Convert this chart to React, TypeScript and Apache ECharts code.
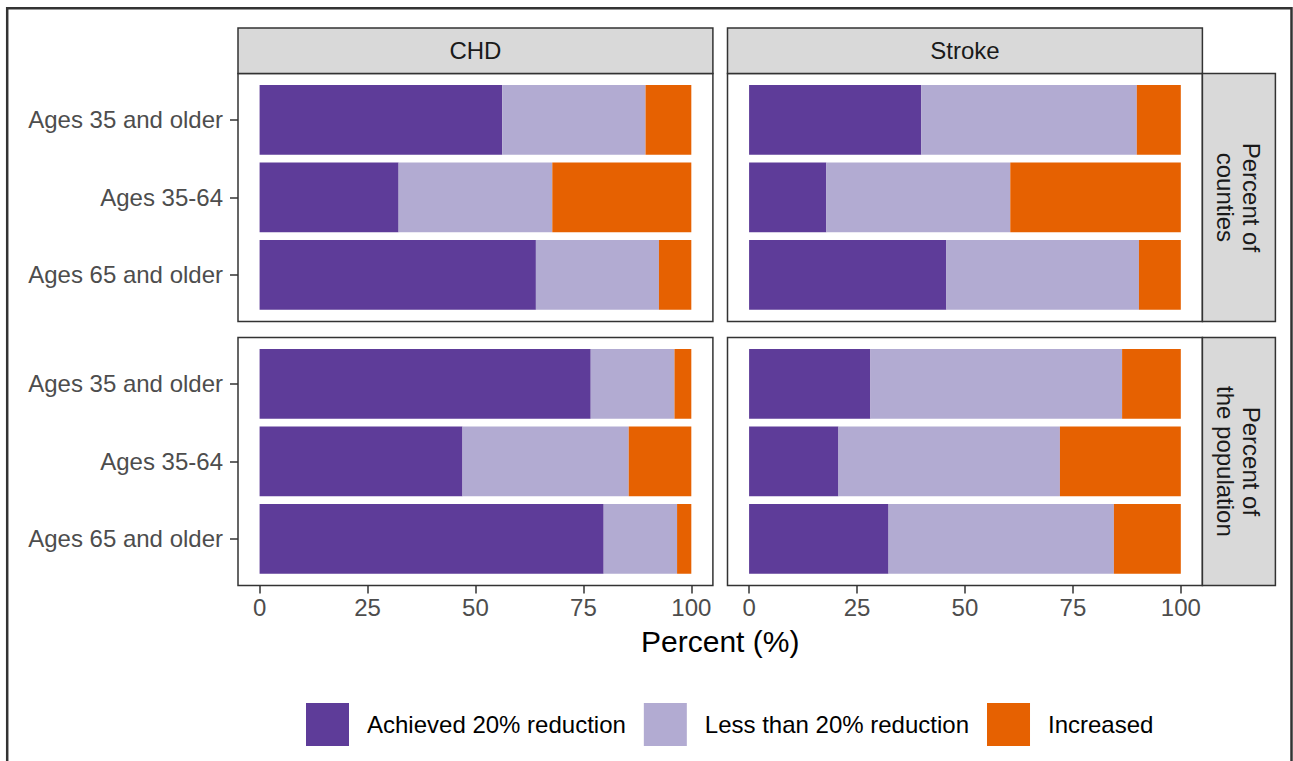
import React, { useEffect, useRef } from "react";
import * as echarts from "echarts";

const categories = ["Ages 35 and older", "Ages 35-64", "Ages 65 and older"];
const facetCols = ["CHD", "Stroke"];
const facetRows = ["Percent of\ncounties", "Percent of\nthe population"];
const seriesNames = ["Achieved 20% reduction", "Less than 20% reduction", "Increased"];
const seriesColors = ["#5E3C99", "#B2ABD2", "#E66101"];
const xTicks = [0, 25, 50, 75, 100];

// Percent of counties
const chdCountiesAchieved = [56.2, 32.2, 64.0];
const chdCountiesLess = [33.2, 35.6, 28.5];
const chdCountiesIncreased = [10.6, 32.2, 7.5];
const strokeCountiesAchieved = [39.9, 17.9, 45.7];
const strokeCountiesLess = [49.9, 42.6, 44.6];
const strokeCountiesIncreased = [10.2, 39.5, 9.7];
// Percent of the population
const chdPopAchieved = [76.7, 47.0, 79.7];
const chdPopLess = [19.4, 38.5, 17.0];
const chdPopIncreased = [3.9, 14.5, 3.3];
const strokePopAchieved = [28.1, 20.7, 32.3];
const strokePopLess = [58.3, 51.3, 52.2];
const strokePopIncreased = [13.6, 28.0, 15.5];

const panelData = [
  [
    [chdCountiesAchieved, chdCountiesLess, chdCountiesIncreased],
    [strokeCountiesAchieved, strokeCountiesLess, strokeCountiesIncreased],
  ],
  [
    [chdPopAchieved, chdPopLess, chdPopIncreased],
    [strokePopAchieved, strokePopLess, strokePopIncreased],
  ],
];

const FONT = "'Liberation Sans', Arial, Helvetica, sans-serif";

export default function App() {
  const ref = useRef<HTMLDivElement>(null);
  useEffect(() => {
    const chart = echarts.init(ref.current!, null, { renderer: "svg" });
    const colLeft = [238, 727.5];
    const panelW = 474.9;
    const rowTop = [73.4, 337.4];
    const panelH = 248;
    const unitY = panelH / 3.2;
    const xPad = (panelW * 5) / 110;
    const stripTop = 28;
    const rowStripW = 73;

    const grids: any[] = [];
    const xAxes: any[] = [];
    const yAxes: any[] = [];
    const series: any[] = [];
    const graphics: any[] = [];

    for (let r = 0; r < 2; r++) {
      for (let c = 0; c < 2; c++) {
        const idx = r * 2 + c;
        grids.push({
          left: colLeft[c] + xPad,
          top: rowTop[r] + unitY * 0.1,
          width: (panelW * 100) / 110,
          height: unitY * 3,
          containLabel: false,
          outerBoundsMode: "none",
        });
        xAxes.push({
          gridIndex: idx,
          type: "value",
          min: xTicks[0],
          max: xTicks[xTicks.length - 1],
          interval: 25,
          offset: unitY * 0.1,
          axisLine: { show: false, onZero: false },
          splitLine: { show: false },
          axisTick: { show: r === 1, length: 8, lineStyle: { color: "#333333", width: 1.5 } },
          axisLabel: { show: r === 1, margin: 10, color: "#4D4D4D", fontSize: 24, fontFamily: FONT },
        });
        yAxes.push({
          gridIndex: idx,
          type: "category",
          data: categories,
          inverse: true,
          offset: xPad,
          axisLine: { show: false, onZero: false },
          splitLine: { show: false },
          axisTick: {
            show: c === 0,
            alignWithLabel: true,
            length: 8,
            lineStyle: { color: "#333333", width: 1.5 },
          },
          axisLabel: {
            show: c === 0,
            margin: 15,
            color: "#4D4D4D",
            fontSize: 24,
            fontFamily: FONT,
            padding: [5, 0, 0, 0],
          },
        });
        for (let k = 0; k < 3; k++) {
          series.push({
            type: "bar",
            name: seriesNames[k],
            xAxisIndex: idx,
            yAxisIndex: idx,
            stack: "s" + idx,
            data: panelData[r][c][k],
            barWidth: "90%",
            itemStyle: { color: seriesColors[k] },
            emphasis: { disabled: true },
          });
        }
        graphics.push({
          type: "rect",
          z: 10,
          shape: { x: colLeft[c], y: rowTop[r], width: panelW, height: panelH },
          style: { fill: "none", stroke: "#333333", lineWidth: 1.5 },
        });
      }
    }

    // column strips
    for (let c = 0; c < 2; c++) {
      graphics.push({
        type: "rect",
        z: 10,
        shape: { x: colLeft[c], y: stripTop, width: panelW, height: rowTop[0] - stripTop },
        style: { fill: "#D9D9D9", stroke: "#333333", lineWidth: 1.5 },
      });
      graphics.push({
        type: "text",
        z: 11,
        x: colLeft[c] + panelW / 2,
        y: (stripTop + rowTop[0]) / 2,
        style: {
          text: facetCols[c],
          fill: "#1A1A1A",
          fontSize: 24,
          fontFamily: FONT,
          align: "center",
          verticalAlign: "middle",
        },
      });
    }
    // row strips
    const rsx = colLeft[1] + panelW;
    for (let r = 0; r < 2; r++) {
      graphics.push({
        type: "rect",
        z: 10,
        shape: { x: rsx, y: rowTop[r], width: rowStripW, height: panelH },
        style: { fill: "#D9D9D9", stroke: "#333333", lineWidth: 1.5 },
      });
      graphics.push({
        type: "text",
        z: 11,
        x: rsx + rowStripW / 2,
        y: rowTop[r] + panelH / 2,
        rotation: -Math.PI / 2,
        style: {
          text: facetRows[r],
          fill: "#1A1A1A",
          fontSize: 24,
          lineHeight: 26,
          fontFamily: FONT,
          align: "center",
          verticalAlign: "middle",
        },
      });
    }
    // axis title
    graphics.push({
      type: "text",
      z: 11,
      x: (colLeft[0] + colLeft[1] + panelW) / 2,
      y: 641,
      style: {
        text: "Percent (%)",
        fill: "#000000",
        fontSize: 30,
        fontFamily: FONT,
        align: "center",
        verticalAlign: "middle",
      },
    });
    // outer frame
    graphics.push({
      type: "rect",
      z: 12,
      shape: { x: 7.2, y: 8.2, width: 1284.3, height: 800 },
      style: { fill: "none", stroke: "#333333", lineWidth: 2.5 },
    });

    chart.setOption({
      animation: false,
      backgroundColor: "#FFFFFF",
      grid: grids,
      xAxis: xAxes,
      yAxis: yAxes,
      series,
      legend: {
        data: seriesNames,
        left: 306,
        top: 703,
        padding: 0,
        orient: "horizontal",
        icon: "rect",
        itemWidth: 43,
        itemHeight: 43,
        itemGap: 18,
        selectedMode: false,
        textStyle: { fontSize: 24, color: "#000000", fontFamily: FONT, padding: [0, 0, 0, 13] },
      },
      tooltip: { show: false },
      graphic: graphics,
    });
    return () => chart.dispose();
  }, []);
  return (
    <div
      ref={ref}
      style={{ position: "absolute", left: 0, top: 0, width: 1293, height: 761 }}
    />
  );
}
